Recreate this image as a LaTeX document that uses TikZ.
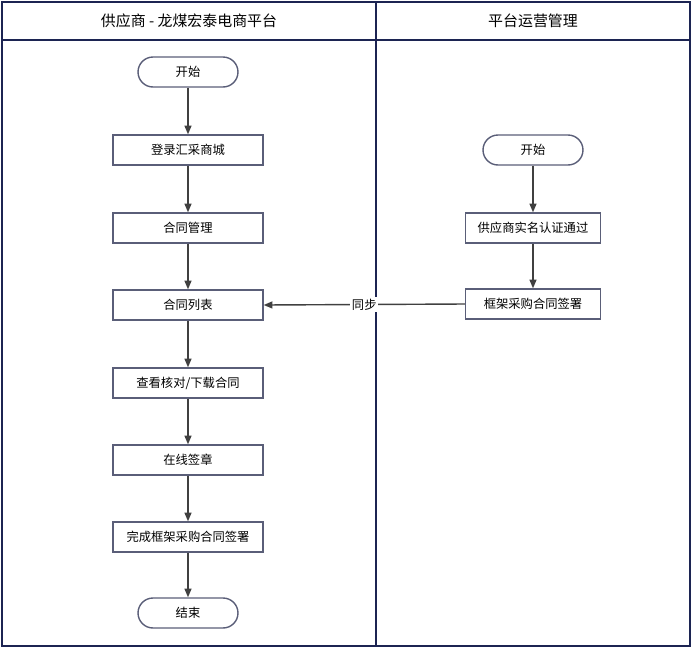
\documentclass[tikz,border=0pt]{standalone}
\usepackage{fontspec}
\setmainfont{Noto Sans CJK SC}
\usetikzlibrary{arrows.meta}
\definecolor{navy}{HTML}{1C2452}
\definecolor{edge}{HTML}{5A5E78}
\begin{document}
\begin{tikzpicture}[x=0.02cm,y=-0.02cm,
		process/.style={draw=edge, thick, minimum width=3cm, minimum height=0.6cm, font=\fontsize{7}{8}\selectfont, inner sep=0pt},
		term/.style={process, minimum width=2cm, rounded corners=0.3cm},
		arrow/.style={-{Triangle[length=5pt,width=4pt]}, draw=black!75, thick}
		]
		\useasboundingbox (0,0) rectangle (694,650);
		
		% Lanes
		\draw[navy, thick] (2,2) rectangle (690,646);
		\draw[navy, thick] (2,40) -- (690,40);
		\draw[navy, thick] (376,2) -- (376,646);
		\node[font=\fontsize{8.5}{10}\selectfont] (laneA) at (189,21) {供应商 - 龙煤宏泰电商平台};
		\node[font=\fontsize{8.5}{10}\selectfont] (laneB) at (533,21) {平台运营管理};
		
		% Nodes
		\node[term] (start1) at (188,72) {开始};
		\node[process] (login) at (188,150) {登录汇采商城};
		\node[process] (manage) at (188,228) {合同管理};
		\node[process] (list) at (188,305) {合同列表};
		\node[process] (check) at (188,383) {查看核对/下载合同};
		\node[process] (sign) at (188,460) {在线签章};
		\node[process] (done) at (188,537) {完成框架采购合同签署};
		\node[term] (end1) at (188,613) {结束};
		\node[term] (start2) at (533,150) {开始};
		\node[process, minimum width=2.7cm] (verify) at (533,228) {供应商实名认证通过};
		\node[process, minimum width=2.7cm] (frame) at (533,304) {框架采购合同签署};
		
		% Arrows
		\draw[arrow] (start1) -- (login);
		\draw[arrow] (login) -- (manage);
		\draw[arrow] (manage) -- (list);
		\draw[arrow] (list) -- (check);
		\draw[arrow] (check) -- (sign);
		\draw[arrow] (sign) -- (done);
		\draw[arrow] (done) -- (end1);
		\draw[arrow] (start2) -- (verify);
		\draw[arrow] (verify) -- (frame);
		\draw[arrow] (frame.west) -- node[pos=0.5, fill=white, inner sep=1pt, font=\fontsize{7}{8}\selectfont] {同步} (list.east);
		
	\end{tikzpicture}
\end{document}
